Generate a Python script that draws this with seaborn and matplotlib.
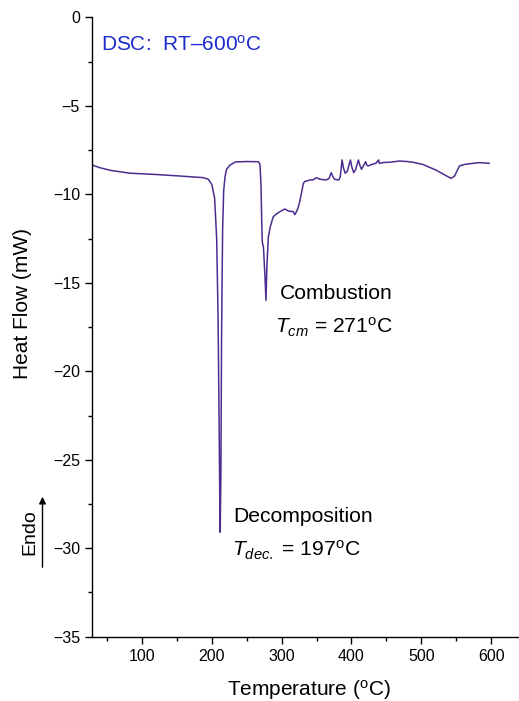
import matplotlib
matplotlib.use("Agg")
import matplotlib.pyplot as plt
import seaborn as sns
import pandas as pd

temperature = [28, 40, 55, 83, 120, 155, 188, 195, 200, 204, 207, 209, 210.5, 211.5, 212, 213, 214, 215.5, 217, 219, 221, 226, 234,
               250, 266.7, 269, 270.5, 271.5, 272.3, 274, 276, 277.6, 279, 281, 284, 288, 293, 297.6, 304.7, 310, 316.6, 319, 321,
               323.8, 326, 328.6, 331, 333, 340, 345, 350, 354.7, 364, 368, 371, 374, 376, 382, 384, 386.6, 388.5, 391, 394,
               398.6, 400.5, 403.3, 406, 410, 412, 414.4, 417, 420.4, 422, 423.7, 430, 435, 439, 440, 447, 455, 469, 480, 488,
               502, 521, 535.6, 542.8, 547.6, 551, 554.7, 562, 583, 597.6]
heat_flow = [-8.34, -8.5, -8.65, -8.81, -8.88, -8.97, -9.06, -9.15, -9.45, -10.2, -12.5, -17.0, -23.0, -27.5, -29.1, -26.0, -18.0, -12.0,
             -9.8, -9.0, -8.6, -8.35, -8.17,
             -8.15, -8.16, -8.3, -9.5, -11.5, -12.7, -13.0, -14.5, -16.0, -14.0, -12.4, -11.8, -11.27, -11.1, -10.98, -10.83, -10.95,
             -10.98, -11.15, -11.0, -10.75, -10.4, -9.9, -9.4, -9.28, -9.2, -9.18, -9.06, -9.15, -9.19, -9.1, -8.78, -9.05, -9.15,
             -9.19, -9.0, -8.06, -8.5, -8.81, -8.7, -8.06, -8.45, -8.78, -8.6, -8.06, -8.35, -8.59, -8.4, -8.16, -8.35, -8.4, -8.3,
             -8.25, -8.06, -8.25, -8.2, -8.19, -8.12, -8.15, -8.19, -8.31, -8.63, -8.95, -9.1, -8.97, -8.7, -8.4, -8.31, -8.21, -8.25]

x_ticks = [100, 200, 300, 400, 500, 600]
y_ticks = [0, -5, -10, -15, -20, -25, -30, -35]

sns.set_style("ticks")
plt.rcParams['font.family'] = ['Liberation Sans', 'DejaVu Sans']
plt.rcParams['mathtext.fontset'] = 'custom'
plt.rcParams['mathtext.rm'] = 'Liberation Sans'
plt.rcParams['mathtext.it'] = 'Liberation Sans:italic'
plt.rcParams['text.color'] = 'black'
plt.rcParams['axes.labelcolor'] = 'black'
plt.rcParams['xtick.color'] = 'black'
plt.rcParams['ytick.color'] = 'black'

df = pd.DataFrame({"T": temperature, "HF": heat_flow})

fig = plt.figure(figsize=(5.19, 7.01), dpi=100)
ax = fig.add_axes([0.1767, 0.0917, 0.8233, 0.8836])
sns.lineplot(data=df, x="T", y="HF", ax=ax, sort=False, estimator=None, color="#4b2d8f", linewidth=1.1)

ax.set_xlim(28, 640)
ax.set_ylim(-35, 0)
ax.set_xticks(x_ticks)
ax.set_yticks(y_ticks)
ax.set_xticks([50, 150, 250, 350, 450, 550], minor=True)
ax.set_yticks([-2.5, -7.5, -12.5, -17.5, -22.5, -27.5, -32.5], minor=True)
ax.tick_params(axis='both', which='major', direction='out', length=5, width=1, labelsize=11.5, color='black')
ax.tick_params(axis='both', which='minor', direction='out', length=3, width=1, color='black')
for s in ['top', 'right']:
    ax.spines[s].set_visible(False)
for s in ['left', 'bottom']:
    ax.spines[s].set_color('black')
    ax.spines[s].set_linewidth(1.0)
ax.set_xticklabels([str(v) for v in x_ticks])
ax.set_yticklabels([("\u2212" + str(-v)) if v < 0 else str(v) for v in y_ticks])

ax.set_xlabel("Temperature ($^\\mathregular{o}$C)", fontsize=15)
ax.set_ylabel("Heat Flow (mW)", fontsize=15)
ax.xaxis.set_label_coords(0.5086, -0.086)
ax.xaxis.label.set_va('center')
ax.yaxis.set_label_coords(-0.163, 0.5387)
ax.yaxis.label.set_va('center')
ax.yaxis.label.set_ha('center')

def px(x, y):
    return (x / 519, 1 - y / 701)

fig.text(*px(101, 45), "DSC:  RT\u2013600$^\\mathregular{o}$C", color="#1c2ccc", fontsize=15, va='center', ha='left')
fig.text(*px(280, 293), "Combustion", fontsize=15.2, va='center', ha='left')
fig.text(*px(275, 327), "$T_{cm}$ = 271$^\\mathregular{o}$C", fontsize=15.2, va='center', ha='left')
fig.text(*px(233, 517), "Decomposition", fontsize=15.2, va='center', ha='left')
fig.text(*px(232, 550), "$T_{dec.}$ = 197$^\\mathregular{o}$C", fontsize=15.2, va='center', ha='left')
fig.text(*px(30, 532), "Endo", fontsize=14, rotation=90, va='center', ha='center')
fig.patches.append(matplotlib.patches.FancyArrowPatch(px(42.5, 570), px(42.5, 494), transform=fig.transFigure,
                                                      arrowstyle='-|>', mutation_scale=10, color='black', linewidth=1.0))

fig.savefig("out.png", dpi=100)
